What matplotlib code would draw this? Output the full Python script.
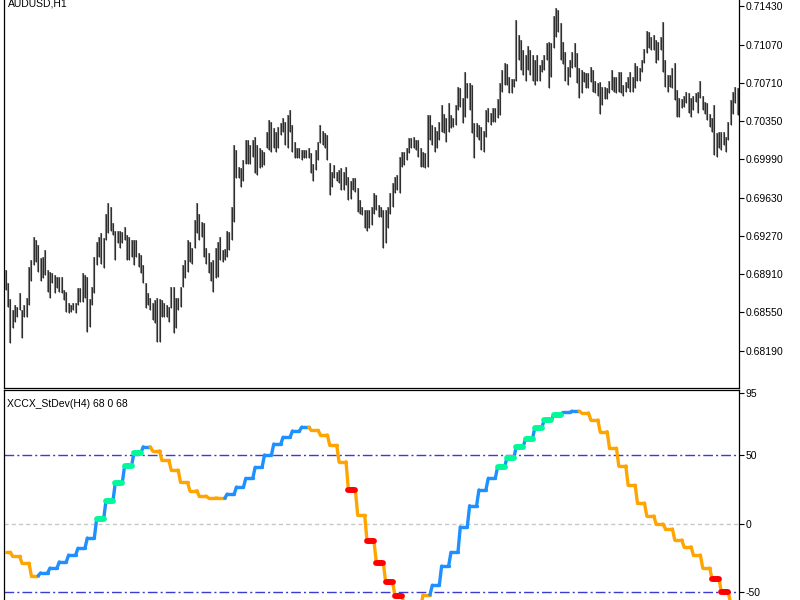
import numpy as np
import matplotlib
matplotlib.use("Agg")
import matplotlib.pyplot as plt
from matplotlib.collections import LineCollection

# ---------------- price data (AUDUSD H1), values in units of 0.0001 ----------------
high_x1e4 = [
    6895,6883,6868,6857,6862,6860,6873,6857,6862,6869,6898,6904,6926,6923,6918,6906,6907,6914,6895,6893,
    6892,6890,6888,6888,6888,6876,6874,6864,6862,6864,6864,6878,6878,6892,6890,6888,6868,6879,6907,6921,
    6926,6930,6925,6948,6958,6954,6939,6932,6932,6932,6931,6935,6928,6926,6923,6923,6923,6911,6909,6900,
    6883,6873,6869,6864,6867,6869,6868,6867,6864,6862,6860,6879,6879,6869,6869,6879,6900,6904,6923,
    6921,6916,6942,6958,6948,6940,6939,6916,6911,6902,6904,6916,6921,6926,6914,6915,6932,6931,6954,7012,
    7008,6992,6991,6998,7017,7017,7012,7017,7020,7012,7010,7008,7006,7025,7036,7034,7028,7025,7029,7033,
    7038,7034,7041,7045,7031,7015,7010,7010,7008,7008,7008,7010,7005,6995,7008,7015,7031,7026,7024,7022,
    6996,6987,6994,6987,6989,6991,6987,6992,6982,6979,6981,6981,6972,6961,6954,6951,
    6951,6951,6954,6967,6965,6956,6954,6951,6951,6954,6967,6977,6982,6984,7001,7006,7006,7010,7019,7019,
    7020,7017,7017,7010,7006,7005,7041,7041,7031,7029,7026,7034,7050,7042,7038,7052,7041,7038,7050,7067,
    7066,7057,7081,7071,7071,7069,7033,7033,7031,7029,7026,7045,7047,7043,7047,7047,7056,7071,7083,7090,
    7089,7076,7075,7075,7130,7116,7111,7102,7097,7106,7102,7097,7092,7097,
    7088,7092,7097,7108,7109,7108,7134,7141,7139,7127,7109,7100,7086,7092,7100,7108,7099,7085,7083,7081,
    7080,7080,7086,7083,7073,7071,7072,7067,7067,7066,7073,7083,7076,7076,7081,7081,7069,7072,7076,7081,
    7076,7090,7087,7085,7092,7103,7120,7119,7114,7116,7111,7109,7114,7128,7092,7078,7078,7085,7090,7064,
    7057,7056,7059,7062,7061,7057,7059,7061,7062,7073,7059,7053,7052,7042,7038,7050,7024,7025,7025,7025,
    7020,7034,7055,7062,7067,7066,
]
low_x1e4 = [
    6876,6860,6826,6840,6846,6851,6857,6831,6851,6851,6862,6885,6900,6902,6893,6885,6887,6890,6874,6869,
    6883,6873,6878,6874,6873,6867,6855,6854,6855,6857,6854,6862,6865,6865,6869,6837,6841,6862,6873,6900,
    6907,6901,6897,6923,6930,6932,6928,6904,6920,6916,6920,6923,6904,6904,6907,6900,6907,6898,6892,6883,
    6859,6862,6857,6848,6845,6827,6827,6851,6851,6851,6846,6859,6836,6840,6857,6860,6879,6887,6893,
    6902,6901,6916,6930,6923,6926,6907,6901,6892,6885,6874,6887,6888,6904,6902,6904,6907,6914,6923,6940,
    6981,6981,6973,6979,6995,6995,6995,7001,6986,6984,6991,6992,6994,7010,7008,7006,7010,7006,7010,7022,
    7025,7012,7010,7025,7006,7000,7000,7000,6998,7000,7000,7000,6986,6979,6989,6998,7014,7012,7010,6998,
    6965,6973,6981,6979,6977,6970,6970,6975,6961,6962,6970,6968,6949,6948,6947,6934,
    6932,6934,6937,6948,6951,6945,6945,6916,6920,6934,6948,6954,6967,6970,6967,6992,6994,6998,7005,7010,
    7010,7008,7001,6992,6992,6991,6992,7017,7012,7006,7010,7017,7025,7024,7015,7025,7028,7029,7031,7045,
    7048,7033,7039,7057,7045,7024,7000,7020,7017,7008,7006,7020,7034,7031,7034,7034,7038,7041,7062,7069,
    7069,7061,7061,7067,7073,7092,7083,7078,7073,7083,7078,7073,7069,7073,
    7073,7081,7083,7092,7066,7076,7104,7114,7119,7092,7089,7073,7069,7076,7085,7086,7071,7057,7061,7072,
    7066,7066,7072,7062,7061,7059,7042,7050,7056,7056,7061,7064,7062,7061,7062,7061,7059,7062,7066,7062,
    7062,7066,7073,7073,7081,7090,7099,7104,7102,7102,7090,7092,7102,7081,7067,7062,7067,7066,7055,7039,
    7039,7047,7048,7052,7043,7039,7045,7053,7043,7057,7045,7042,7036,7029,7025,7003,7001,7010,7008,7012,
    7006,7017,7031,7042,7052,7041,
]
price_ticks = [0.71430, 0.71070, 0.70710, 0.70350, 0.69990, 0.69630, 0.69270, 0.68910, 0.68550, 0.68190]

# ---------------- indicator (H4 values shown on H1 bars) ----------------
h4_first_block_bars = 3          # first H4 block is partial (3 H1 bars), the rest have 4
h4_value = [
    -21, -24, -29, -38, -36, -32.5, -28, -23, -18, -10.6,
    3, 16.4, 29.6, 42, 51.5, 56, 53, 46, 39, 30,
    24, 20, 18.6, 18.5, 21.5, 26.6, 33, 41, 50, 58,
    63, 67.5, 70.4, 68, 64.6, 57, 45, 24.5, 6, -13,
    -29, -43, -53, -60, -62, -52, -45, -31, -21, -2.5,
    13, 24.5, 33, 41, 48, 56, 62, 70, 75.5, 79,
    81, 82, 80.7, 75.5, 67, 55, 42, 28, 15, 5.5,
    -0.4, -4, -12, -17, -23, -32.5, -40.5, -50, -59,
]
# trend colour per H4 block: o = falling (orange), b = rising (blue)
h4_trend = list("oooobbbbbb" "bbbbbboooo" "oooobbbbbb" "bbbooooooo"
                "oooooobbbb" "bbbbbbbbbb" "bboooooooo" "ooooooooo")
# signal mark per H4 block: g = green, r = red, - = none
h4_mark = list("----------" "ggggg-----" "----------" "-------r-r"
               "rrr-------" "---ggggggg" "----------" "------rr-")
levels = [50, 0, -50]
ind_ticks = [95, 50, 0, -50]

# ---------------- styles ----------------
C_BAR = "#2e2e2e"
C_BAR_EDGE = "#8a8a8a"
C_TREND = {"o": "#FFA500", "b": "#1E90FF"}
C_MARK = {"g": "#00FA9A", "r": "#FF0000"}
FONT = "Liberation Sans"

W, H = 800, 600
fig = plt.figure(figsize=(W / 100, H / 100), dpi=100)
ax1 = fig.add_axes([4 / W, 1 - 388 / H, 735 / W, 388 / H])
ax2 = fig.add_axes([4 / W, 0, 735 / W, 210 / H])

high = np.array(high_x1e4) / 1e4
low = np.array(low_x1e4) / 1e4
n = len(high)
x = np.arange(n)

ax1.vlines(x, low, high, color=C_BAR_EDGE, lw=1.5)
ax1.vlines(x, low, high, color=C_BAR, lw=0.8)
ax1.set_ylim(0.67839, 0.714886)
ax1.set_xlim(-0.73, n - 1 + 0.56)

# expand H4 blocks over H1 bars
sizes = [h4_first_block_bars] + [4] * (len(h4_value) - 1)
block_of_bar = np.repeat(np.arange(len(h4_value)), sizes)[:n]
vals = np.array(h4_value, dtype=float)[block_of_bar]
first_in_block = np.r_[True, block_of_bar[1:] != block_of_bar[:-1]]

norm_segs, norm_cols, mark_segs, mark_cols = [], [], [], []
for i in range(1, n):
    k = block_of_bar[i]
    seg = [(i - 1, vals[i - 1]), (i, vals[i])]
    if (not first_in_block[i]) and h4_mark[k] != "-":
        mark_segs.append(seg)
        mark_cols.append(C_MARK[h4_mark[k]])
    else:
        norm_segs.append(seg)
        norm_cols.append(C_TREND[h4_trend[k]])

for lv in levels:
    if lv == 0:
        ax2.axhline(lv, color="#c8c8c8", lw=1.0, ls=(0, (3, 2.2)), zorder=1)
    else:
        ax2.axhline(lv, color="#3c3cd2", lw=1.0, ls=(0, (7, 2.2, 1.5, 2.2)), zorder=1)

ax2.add_collection(LineCollection(norm_segs, colors=norm_cols, linewidths=2.4,
                                  capstyle="round", joinstyle="round", zorder=3))
ax2.add_collection(LineCollection(mark_segs, colors=mark_cols, linewidths=4.2,
                                  capstyle="round", joinstyle="round", zorder=4))
ax2.set_xlim(-0.73, n - 1 + 0.56)
ax2.set_ylim(-55.8, 97.4)

for ax, ticks, fmt in ((ax1, price_ticks, "{:.5f}"), (ax2, ind_ticks, "{:d}")):
    ax.set_xticks([])
    ax.yaxis.tick_right()
    ax.set_yticks(ticks)
    ax.set_yticklabels([fmt.format(t) for t in ticks], fontsize=7.5, family=FONT)
    ax.tick_params(axis="y", direction="out", length=3.5, width=0.8, pad=1, colors="black")
    for s in ax.spines.values():
        s.set_linewidth(0.9)
        s.set_color("black")
ax1.spines["top"].set_visible(False)
ax2.spines["bottom"].set_visible(False)

fig.text(8 / W, 1 - 7 / H, "AUDUSD,H1", fontsize=7.5, family=FONT, va="baseline")
fig.text(7 / W, 1 - 407 / H, "XCCX_StDev(H4) 68 0 68", fontsize=7.5, family=FONT, va="baseline")

fig.savefig("out.png", dpi=100)
